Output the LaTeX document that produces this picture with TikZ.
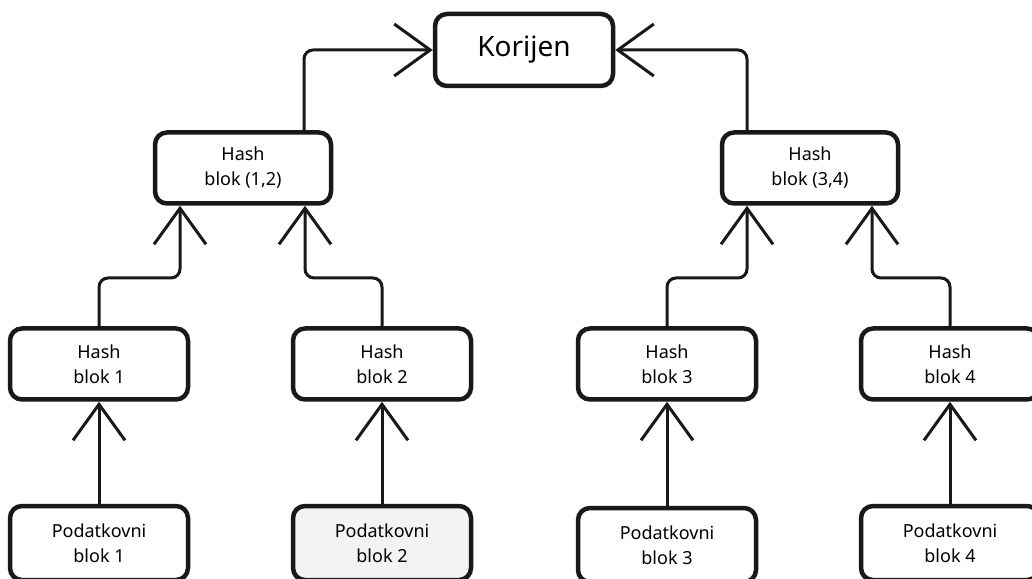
\documentclass[tikz,border=0pt]{standalone}
\usepackage{fontspec}
\setmainfont{Noto Sans}
\usetikzlibrary{arrows.meta}
\definecolor{boxgray}{HTML}{F3F3F3}

\tikzset{
  blok/.style={draw=black!90, line width=4.5pt, rounded corners=12pt, fill=white,
    minimum width=178pt, minimum height=71pt, align=center,
    font=\fontsize{18}{25}\selectfont},
  link/.style={draw=black!90, line width=3pt, rounded corners=9pt,
    -{Straight Barb[length=36pt, width=52pt]}}
}

\begin{document}
\begin{tikzpicture}[x=1pt, y=1pt]
      \useasboundingbox (0,0) rectangle (1032,578);
      % nodes
      \node[blok, minimum height=72pt, font=\fontsize{28}{32}\selectfont] (root) at (524,528) {Korijen};
      \node[blok, minimum width=176pt] (h12) at (243,410) {Hash\\blok (1,2)};
      \node[blok, minimum width=176pt] (h34) at (810,410) {Hash\\blok (3,4)};
      \node[blok] (h1) at (99,214) {Hash\\blok 1};
      \node[blok] (h2) at (382,214) {Hash\\blok 2};
      \node[blok] (h3) at (667,214) {Hash\\blok 3};
      \node[blok] (h4) at (950,214) {Hash\\blok 4};
      \node[blok, minimum height=74pt] (p1) at (99,35) {Podatkovni\\blok 1};
      \node[blok, minimum height=74pt, fill=boxgray] (p2) at (382,35) {Podatkovni\\blok 2};
      \node[blok, minimum height=74pt] (p3) at (667,33) {Podatkovni\\blok 3};
      \node[blok, minimum height=74pt] (p4) at (950,35) {Podatkovni\\blok 4};
      % joints
      \coordinate (j1) at (180,300);
      \coordinate (j2) at (305,300);
      \coordinate (j3) at (747,300);
      \coordinate (j4) at (872,300);
      % connectors
      \draw[link] ([xshift=61pt]h12.north) |- (root.west);
      \draw[link] ([xshift=-63pt]h34.north) |- (root.east);
      \draw[link] (h1.north) |- (j1) -- (j1 |- h12.south);
      \draw[link] (h2.north) |- (j2) -- (j2 |- h12.south);
      \draw[link] (h3.north) |- (j3) -- (j3 |- h34.south);
      \draw[link] (h4.north) |- (j4) -- (j4 |- h34.south);
      \draw[link] (p1) -- (h1);
      \draw[link] (p2) -- (h2);
      \draw[link] (p3) -- (h3);
      \draw[link] (p4) -- (h4);
    \end{tikzpicture}
\end{document}
